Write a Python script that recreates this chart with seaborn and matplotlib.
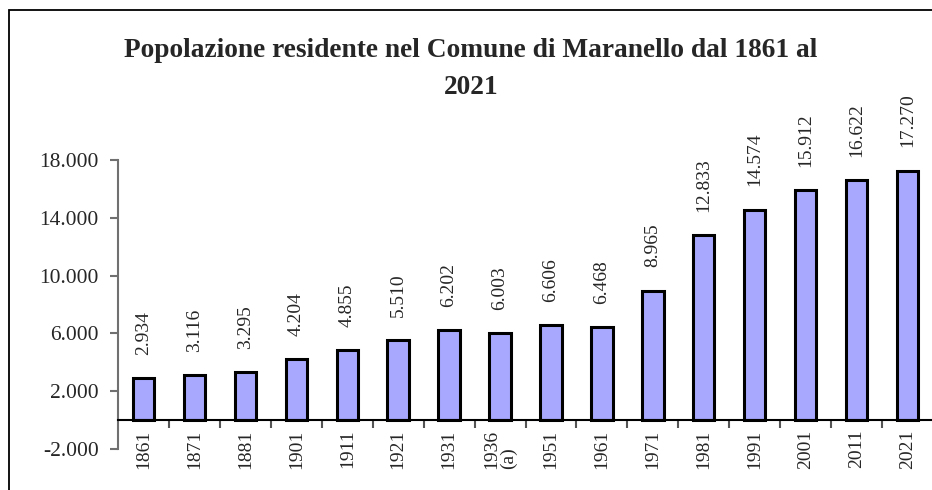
import pandas as pd
import seaborn as sns
import matplotlib.pyplot as plt
from matplotlib.patches import Rectangle
import numpy as np

anni = ['1861', '1871', '1881', '1901', '1911', '1921', '1931', '1936\n(a)',
        '1951', '1961', '1971', '1981', '1991', '2001', '2011', '2021']
residenti = [2934, 3116, 3295, 4204, 4855, 5510, 6202, 6003,
             6606, 6468, 8965, 12833, 14574, 15912, 16622, 17270]
y_ticks = [-2000, 2000, 6000, 10000, 14000, 18000]

df = pd.DataFrame({'anno': anni, 'residenti': residenti})

sns.set_style('white')
plt.rcParams['font.family'] = ['Liberation Serif', 'DejaVu Serif']

fig = plt.figure(figsize=(9.32, 4.9), dpi=100)
ax = fig.add_axes([118/932, 1 - 449/490, 815/932, 289/490])

sns.barplot(data=df, x='anno', y='residenti', color='#A8A8FF', saturation=1,
            width=0.42, edgecolor='black', linewidth=2.2, ax=ax)

def fmt(v):
    return '{:,}'.format(v).replace(',', '.')

for i, v in enumerate(residenti):
    ax.text(i, v + 1600, fmt(v), rotation=90, ha='center', va='bottom',
            fontsize=14, clip_on=False)

ax.set_ylim(-2000, 18000)
ax.set_xlim(-0.5, 15.5)
ax.set_yticks(y_ticks)
ax.set_yticklabels([fmt(t) for t in y_ticks], fontsize=15.5)
ax.set_xlabel('')
ax.set_ylabel('')

# spines: left gray, bottom at zero
for s in ['top', 'right']:
    ax.spines[s].set_visible(False)
ax.spines['left'].set_color('#707070')
ax.spines['left'].set_linewidth(1.5)
ax.spines['bottom'].set_position(('data', 0))
ax.spines['bottom'].set_color('black')
ax.spines['bottom'].set_linewidth(1.5)

ax.tick_params(axis='y', direction='out', length=6, width=1.5, color='#707070', pad=8, left=True)
ax.set_xticks(range(len(anni)))
ax.set_xticklabels(anni, rotation=90, fontsize=14, va='top', ha='center',
                   multialignment='left', linespacing=0.95)
ax.tick_params(axis='x', which='major', length=0, pad=7)
ax.set_xticks(np.arange(0.5, len(anni) - 0.5, 1), minor=True)
ax.tick_params(axis='x', which='minor', direction='out', length=6, width=1.5, color='#555555', bottom=True)

fig.text(471/932, 1 - 38/490, 'Popolazione residente nel Comune di Maranello dal 1861 al\n2021',
         ha='center', va='top', fontsize=19.75, fontweight='bold', linespacing=1.62)

# outer frame of the chart area
fig.patches.append(Rectangle((9/932, -0.2), 1.2, 1 - 10/490 + 0.2, transform=fig.transFigure,
                             fill=False, edgecolor='black', linewidth=1.3))

fig.savefig('out.png', dpi=100)
